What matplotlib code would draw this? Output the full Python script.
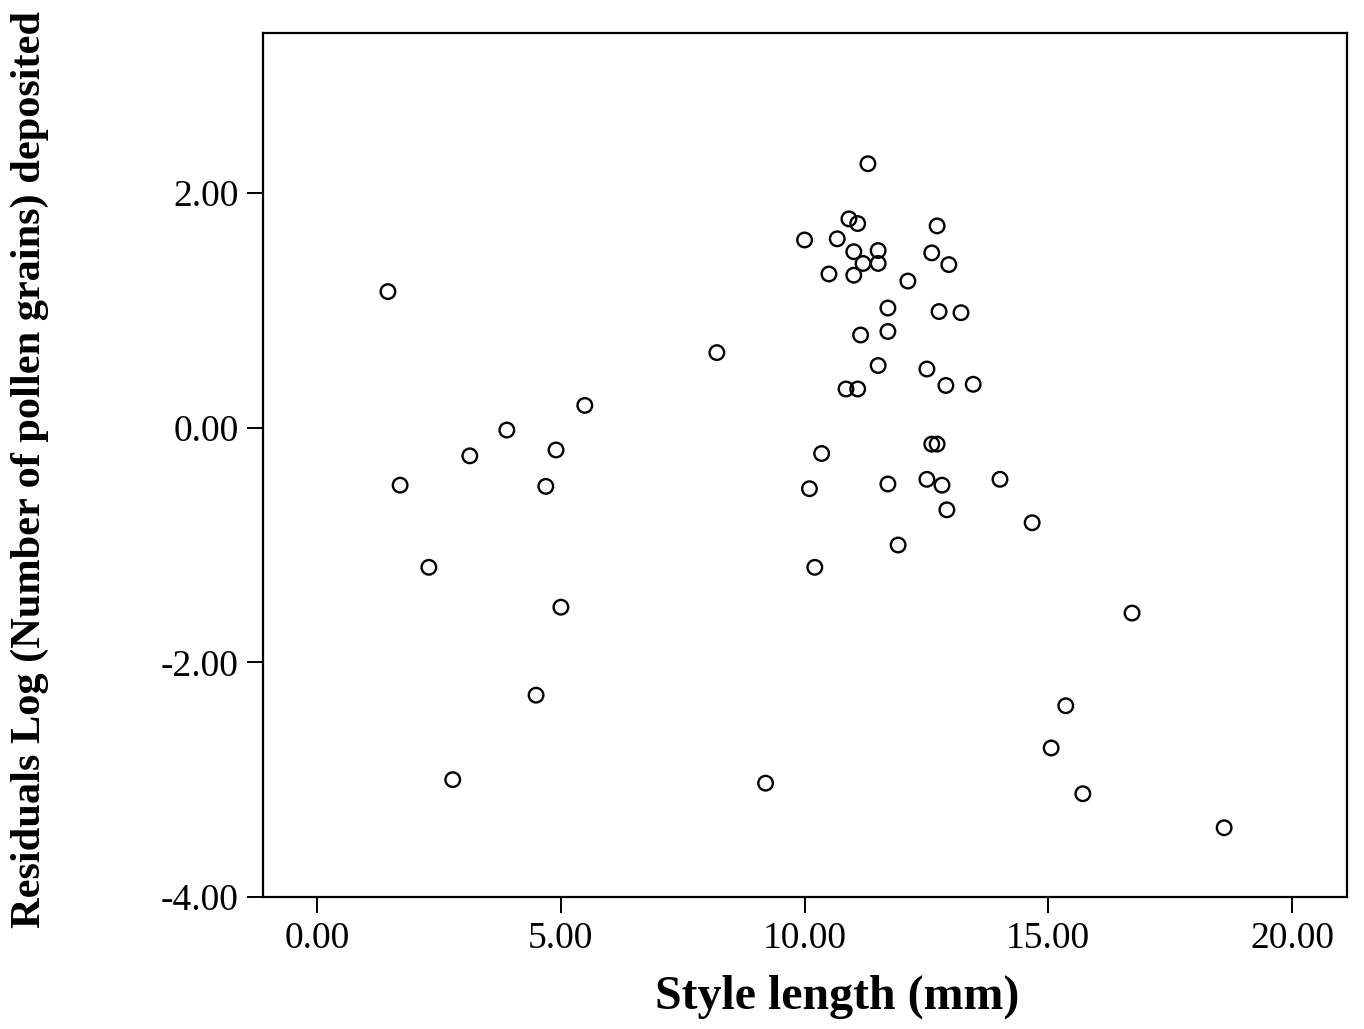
import numpy as np
import matplotlib
matplotlib.use('Agg')
from matplotlib import pyplot as plt

# style length (mm) vs. residuals of log pollen load
style_len = [1.45, 1.70, 2.29, 2.78, 3.13, 3.89, 4.49, 4.69, 4.90, 5.00,
             5.49, 8.20, 9.20, 10.00, 10.10, 10.21, 10.35, 10.50, 10.67, 10.85,
             10.91, 11.01, 11.01, 11.09, 11.09, 11.15, 11.20, 11.30, 11.51, 11.51,
             11.51, 11.71, 11.71, 11.71, 11.92, 12.12, 12.51, 12.51, 12.61, 12.61,
             12.72, 12.72, 12.76, 12.82, 12.90, 12.92, 12.96, 13.21, 13.46, 14.01,
             14.67, 15.06, 15.36, 15.71, 16.72, 18.61]
residuals = [1.16, -0.49, -1.19, -3.00, -0.24, -0.02, -2.28, -0.50, -0.19, -1.53,
             0.19, 0.64, -3.03, 1.60, -0.52, -1.19, -0.22, 1.31, 1.61, 0.33,
             1.78, 1.50, 1.30, 0.33, 1.74, 0.79, 1.40, 2.25, 1.51, 1.40,
             0.53, 1.02, 0.82, -0.48, -1.00, 1.25, 0.50, -0.44, 1.49, -0.14,
             -0.14, 1.72, 0.99, -0.49, 0.36, -0.70, 1.39, 0.98, 0.37, -0.44,
             -0.81, -2.73, -2.37, -3.12, -1.58, -3.41]

xticks = [0, 5, 10, 15, 20]
yticks = [-4, -2, 0, 2]

plt.rcParams['font.family'] = ['Liberation Serif', 'DejaVu Serif']

fig = plt.figure(figsize=(13.64, 10.29), dpi=100)
ax = fig.add_axes([0.1928, 0.1283, 0.7947, 0.8396])

ax.scatter(style_len, residuals, s=110, facecolors='none', edgecolors='black',
           linewidths=1.7, zorder=3)

ax.set_xlim(-1.114, 21.13)
ax.set_ylim(-4.0, 3.364)
ax.set_xticks(xticks)
ax.set_yticks(yticks)
ax.set_xticklabels(['%.2f' % v for v in xticks])
ax.set_yticklabels(['%.2f' % v for v in yticks])

for sp in ax.spines.values():
    sp.set_linewidth(1.6)
ax.tick_params(direction='out', length=11.5, width=1.4, labelsize=27, pad=6,
               top=False, right=False)

fig.text(837 / 1364, 1 - 997 / 1029, 'Style length (mm)', fontsize=34.5,
         fontweight='bold', ha='center', va='center')
fig.text(30 / 1364, 1 - 470 / 1029, 'Residuals Log (Number of pollen grains) deposited',
         fontsize=30.5, fontweight='bold', ha='center', va='center', rotation=90)

fig.savefig('out.png', dpi=100)
